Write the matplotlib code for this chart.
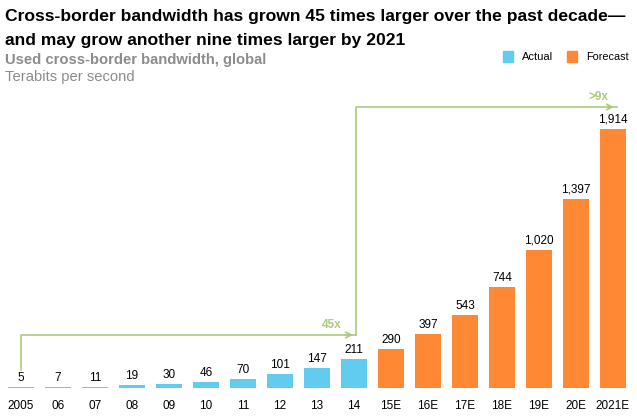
import matplotlib.pyplot as plt
import numpy as np

plt.rcParams['font.family'] = ['Liberation Sans', 'DejaVu Sans']

years = ['2005', '06', '07', '08', '09', '10', '11', '12', '13', '14',
         '15E', '16E', '17E', '18E', '19E', '20E', '2021E']
values = [5, 7, 11, 19, 30, 46, 70, 101, 147, 211,
          290, 397, 543, 744, 1020, 1397, 1914]
labels = ['5', '7', '11', '19', '30', '46', '70', '101', '147', '211',
          '290', '397', '543', '744', '1,020', '1,397', '1,914']
n_actual = 10

BLUE = '#62cbf0'
ORANGE = '#fe8833'
GREEN = '#afc97f'
GREY = '#8c8c8c'


def main():
    fig = plt.figure(figsize=(6.37, 4.18), dpi=100)
    ax = fig.add_axes([0, 0, 1, 1])
    ax.set_axis_off()

    # pixel mapping: bar i centre at x = 21 + 37*i, baseline 30 px from bottom
    step = 37.0
    ppu = 259.0 / 1914.0
    ax.set_xlim(-21 / step, (637 - 21) / step)
    ax.set_ylim(-30 / ppu, (418 - 30) / ppu)

    x = np.arange(len(years))
    colors = [BLUE if i < n_actual else ORANGE for i in range(len(years))]
    ax.bar(x, values, width=26 / step, color=colors)

    for xi, v, lab in zip(x, values, labels):
        ax.text(xi, v + 9 / ppu, lab, ha='center', va='center', fontsize=8.5)
        ax.text(xi, -18 / ppu, years[xi], ha='center', va='center', fontsize=8.5)

    # growth arrows
    y_low = 53 / ppu
    y_high = 281 / ppu
    ax.plot([0, 0, 9.05], [18 / ppu, y_low, y_low], color=GREEN, lw=1.2)
    ax.annotate('', xy=(9.05, y_low), xytext=(8.7, y_low),
                arrowprops=dict(arrowstyle='->', color=GREEN, lw=1.2,
                                mutation_scale=10))
    ax.plot([9.05, 9.05, 16.1], [y_low, y_high, y_high], color=GREEN, lw=1.2)
    ax.annotate('', xy=(16.1, y_high), xytext=(15.8, y_high),
                arrowprops=dict(arrowstyle='->', color=GREEN, lw=1.2,
                                mutation_scale=10))
    ax.text(8.4, y_low + 10 / ppu, '45x', color=GREEN, fontsize=8.5,
            fontweight='bold', ha='center', va='center')
    ax.text(15.6, y_high + 10 / ppu, '>9x', color=GREEN, fontsize=8.5,
            fontweight='bold', ha='center', va='center')

    # titles
    fig.text(5 / 637, 1 - 17 / 418,
             'Cross-border bandwidth has grown 45 times larger over the past decade\u2014',
             fontsize=12.6, fontweight='bold', va='center')
    fig.text(5 / 637, 1 - 40 / 418,
             'and may grow another nine times larger by 2021',
             fontsize=12.6, fontweight='bold', va='center')
    fig.text(5 / 637, 1 - 60 / 418, 'Used cross-border bandwidth, global',
             fontsize=10.6, fontweight='bold', color=GREY, va='center')
    fig.text(5 / 637, 1 - 77 / 418, 'Terabits per second',
             fontsize=10.6, color=GREY, va='center')

    # legend
    fig.patches.append(plt.Rectangle((503 / 637, 1 - 62 / 418), 10 / 637, 11 / 418,
                                     color=BLUE, transform=fig.transFigure))
    fig.text(522 / 637, 1 - 57 / 418, 'Actual', fontsize=8, va='center')
    fig.patches.append(plt.Rectangle((567 / 637, 1 - 62 / 418), 10 / 637, 11 / 418,
                                     color=ORANGE, transform=fig.transFigure))
    fig.text(586 / 637, 1 - 57 / 418, 'Forecast', fontsize=7.8, va='center')

    fig.savefig('out.png', dpi=100)


if __name__ == "__main__":
    main()
